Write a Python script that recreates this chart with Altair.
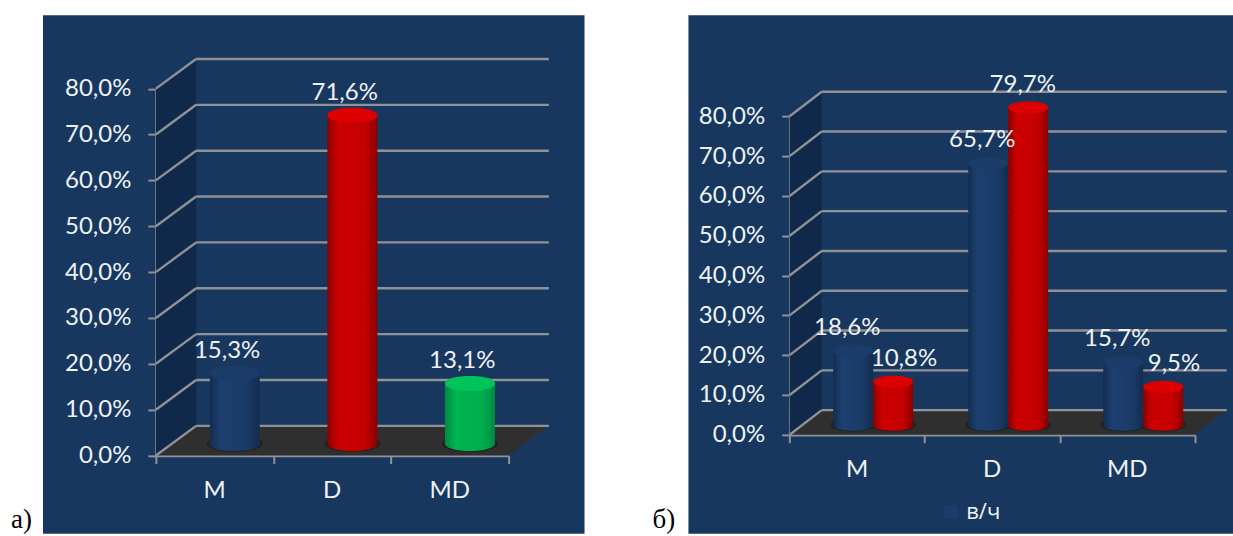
import altair as alt
import pandas as pd

# Survey shares, in percent
categories = ["M", "D", "MD"]
values_a = [15.3, 71.6, 13.1]
colors_a = ["blue", "red", "green"]
values_b_blue = [18.6, 65.7, 15.7]
values_b_red = [10.8, 79.7, 9.5]
y_ticks = [0, 10, 20, 30, 40, 50, 60, 70, 80]
x_ticks = [0, 1, 2, 3]
legend_name = "в/ч"

NAVY = "#17375e"
WALL = "#10294a"
FLOOR = "#2f2f2f"
LINE = "#8f9297"
TEXT = "#eef2f7"
FONT = "Lato"

# edge, middle-left, middle-right and top-face shades of each cylinder
PALETTE = {
    "blue": ("#132c50", "#1d4070", "#1a3a66", "#1b3c69"),
    "red": ("#8a0000", "#cc0000", "#c40000", "#dc0000"),
    "green": ("#008a42", "#00b552", "#00ad4e", "#00c45a"),
}
ELLIPSE = "M-1,0 C-1,-0.4 1,-0.4 1,0 C1,0.4 -1,0.4 -1,0 Z"


def shade(name):
    edge, mid_l, mid_r, _ = PALETTE[name]
    return alt.Gradient(
        gradient="linear", x1=0, x2=1, y1=0, y2=0,
        stops=[
            alt.GradientStop(color=edge, offset=0),
            alt.GradientStop(color=mid_l, offset=0.22),
            alt.GradientStop(color=mid_r, offset=0.75),
            alt.GradientStop(color=edge, offset=1),
        ],
    )


def panel(df, width, height, x_range, y_range, depth_x, depth_y, bar_w, floor_dy,
          letter, letter_x, label_dy, legend=False):
    X = alt.Scale(domain=[0, 3], range=x_range)
    Y = alt.Scale(domain=[0, 80], range=y_range)
    x_q = lambda f: alt.X(f, type="quantitative", scale=X, axis=None)
    y_q = lambda f: alt.Y(f, type="quantitative", scale=Y, axis=None)

    # left wall and floor of the box, in value coordinates
    wall = pd.DataFrame({"x": [0, depth_x], "lo": [0, depth_y],
                         "hi": [80, 80 + depth_y]})
    floor = pd.DataFrame({"x": [0, depth_x, 3, 3 + depth_x],
                          "lo": [0, 0, 0, depth_y],
                          "hi": [0, depth_y, depth_y, depth_y]})
    back = pd.DataFrame({"v": y_ticks})
    back["x0"] = depth_x
    back["x1"] = 3 + depth_x
    back["y"] = back["v"] + depth_y
    side = pd.DataFrame(
        [{"v": v, "x": 0, "y": v} for v in y_ticks]
        + [{"v": v, "x": depth_x, "y": v + depth_y} for v in y_ticks]
    )

    layers = [
        alt.Chart(wall).mark_area(color=WALL, opacity=1).encode(
            x=x_q("x"), y=y_q("lo"), y2="hi"),
        alt.Chart(floor).mark_area(color=FLOOR, opacity=1).encode(
            x=x_q("x"), y=y_q("lo"), y2="hi"),
        alt.Chart(back).mark_rule(color=LINE, strokeWidth=2.4).encode(
            x=x_q("x0"), x2="x1", y=y_q("y")),
        alt.Chart(side).mark_line(color=LINE, strokeWidth=2.4).encode(
            x=x_q("x"), y=y_q("y"), detail="v:N"),
    ]

    # axes drawn on the front plane of the box
    left_shift = -x_range[0]
    bottom_shift = -(height - y_range[0])
    axis_style = dict(domainColor=LINE, domainWidth=2.4, tickColor=LINE, tickWidth=2,
                      grid=False, title=None)
    ticks = pd.DataFrame({"x": x_ticks, "y": [0, 0, 0, 0]})
    layers.append(
        alt.Chart(ticks).mark_point(opacity=0).encode(
            x=alt.X("x:Q", scale=X, axis=alt.Axis(
                values=x_ticks, labels=False, tickSize=8, offset=bottom_shift, **axis_style)),
            y=alt.Y("y:Q", scale=Y, axis=alt.Axis(
                values=y_ticks, tickSize=8, offset=left_shift, labelPadding=17,
                labelFont=FONT, labelFontSize=24, labelColor=TEXT,
                labelExpr="replace(format(datum.value, '.1f'), '.', ',') + '%'",
                **axis_style)),
        )
    )

    base = df.assign(half=bar_w / 2)
    base["zero"] = 0
    base["x0"] = base["c"] - bar_w / 2
    base["x1"] = base["c"] + bar_w / 2
    px = bar_w * (x_range[1] - x_range[0]) / 3
    size = px * px

    # contact shadow under the cylinders
    layers.append(
        alt.Chart(base).mark_point(
            filled=True, fill="#222222", opacity=1, strokeWidth=0, shape=ELLIPSE,
            size=(px + 6) ** 2, yOffset=floor_dy,
        ).encode(x=x_q("c"), y=y_q("zero"))
    )
    for name in base["shade"].drop_duplicates():
        sub = base[base["shade"] == name]
        layers += [
            alt.Chart(sub).mark_point(
                filled=True, fill=shade(name), opacity=1, strokeWidth=0,
                shape=ELLIPSE, size=size, yOffset=floor_dy,
            ).encode(x=x_q("c"), y=y_q("zero")),
            alt.Chart(sub).mark_bar(
                fill=shade(name), opacity=1, yOffset=floor_dy, y2Offset=floor_dy,
            ).encode(x=x_q("x0"), x2="x1", y=y_q("v"), y2="zero"),
            alt.Chart(sub).mark_point(
                filled=True, fill=PALETTE[name][3], opacity=1, strokeWidth=0,
                shape=ELLIPSE, size=size, yOffset=floor_dy,
            ).encode(x=x_q("c"), y=y_q("v")),
        ]

    labels = base.assign(
        txt=base["v"].map(lambda v: f"{v:.1f}".replace(".", ",") + "%"))
    text_kw = dict(font=FONT, fontSize=24, color=TEXT, baseline="alphabetic",
                   align="center", yOffset=label_dy)
    layers.append(
        alt.Chart(labels).mark_text(**text_kw).encode(
            x=x_q("tx"), y=y_q("v"), text="txt:N")
    )

    names = pd.DataFrame({"name": categories, "x": [0.5, 1.5, 2.5], "y": [0, 0, 0]})
    layers.append(
        alt.Chart(names).mark_text(
            font=FONT, fontSize=24, color=TEXT, align="center",
            baseline="alphabetic", yOffset=42,
        ).encode(x=x_q("x"), y=y_q("y"), text="name:N")
    )
    layers.append(
        alt.Chart(pd.DataFrame({"t": [letter]})).mark_text(
            font="Liberation Serif", fontSize=27, color="black", align="left",
            baseline="alphabetic",
        ).encode(x=alt.value(letter_x), y=alt.value(height - 6), text="t:N")
    )

    if legend:
        key = pd.DataFrame({"s": [legend_name], "x": [1.0], "y": [0]})
        layers.append(
            alt.Chart(key).mark_point(filled=True, size=0, opacity=1).encode(
                x=x_q("x"), y=y_q("y"),
                color=alt.Color("s:N", scale=alt.Scale(domain=[legend_name],
                                                       range=["#1c3d6b"]),
                                legend=alt.Legend(
                                    orient="none", legendX=252, legendY=486,
                                    title=None, symbolType="square", symbolSize=190,
                                    symbolStrokeWidth=0, labelFont="Open Sans",
                                    labelFontSize=22, labelColor=TEXT)),
            )
        )

    return (
        alt.layer(*layers)
        .resolve_axis(x="independent", y="independent")
        .properties(width=width, height=height)
    )


# first panel: one cylinder per category
depth_a_x, depth_a_y = 0.3424, 6.47
df_a = pd.DataFrame({
    "v": values_a,
    "shade": colors_a,
    "c": [i + 0.5 + depth_a_x / 2 for i in range(3)],
    "tx": [i + 0.5 + 0.106 for i in range(3)],
})
chart_a = panel(df_a, 542, 519, [113, 466], [440.7, 73.5], depth_a_x, depth_a_y,
                0.425, -12, "а)", -32, -27)

# second panel: a pair of cylinders per category
depth_b_x, depth_b_y = 0.237, 6.18
pair = 0.148
rows = []
for i in range(3):
    mid = i + 0.5 + depth_b_x / 2
    rows.append({"v": values_b_blue[i], "shade": "blue", "c": mid - pair,
                 "tx": mid - pair - 0.044})
    red = values_b_red[i]
    nudge = 0.08 if red < 12 else -0.04
    rows.append({"v": red, "shade": "red", "c": mid + pair, "tx": mid + pair + nudge})
df_b = pd.DataFrame(rows)
chart_b = panel(df_b, 545, 519, [101.3, 506.7], [419.9, 101.2], depth_b_x, depth_b_y,
                0.296, -10, "б)", -36, -26, legend=True)

chart = (
    alt.hconcat(chart_a, chart_b, spacing=68)
    .resolve_legend(color="independent")
    .properties(padding={"left": 11, "top": 15, "right": 0, "bottom": 0})
    .configure_view(fill=NAVY, stroke=None)
)
chart.save("out.html", embed_options={"renderer": "svg", "actions": False})
